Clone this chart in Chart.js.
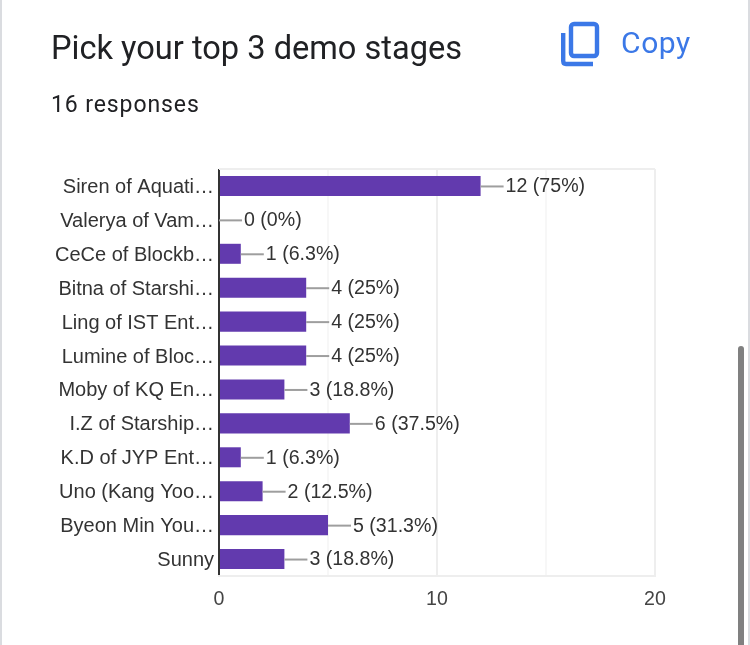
<!DOCTYPE html>
<html>
<head>
<meta charset="utf-8">
<style>
html, body { margin: 0; padding: 0; background: #fff; overflow: hidden; }
#page { position: relative; width: 750px; height: 645px; overflow: hidden; }
#chart { position: absolute; left: 0; top: 0; }
.edge { position: absolute; top: 0; height: 645px; width: 2px; background: #dadce0; }
#scroll { position: absolute; left: 738px; top: 346px; width: 6px; height: 299px; background: #808080; border-radius: 3px 3px 0 0; }
#title { position: absolute; left: 51px; top: 29px; font: 32.6px Roboto, sans-serif; color: #202124; white-space: nowrap; }
#count { position: absolute; left: 51px; top: 91px; font: 23px Roboto, sans-serif; letter-spacing: 0.9px; color: #202124; white-space: nowrap; }
#copy { position: absolute; left: 621px; top: 25px; font: 400 30px Roboto, sans-serif; letter-spacing: 0.6px; color: #3b78e7; }
#icon { position: absolute; left: 560px; top: 20px; }
</style>
<script src="https://cdn.jsdelivr.net/npm/chart.js@4"></script>
</head>
<body>
<div id="page">
    <canvas id="chart" width="750" height="645"></canvas>
    <div class="edge" style="left:0"></div>
    <div class="edge" style="left:748px"></div>
    <div id="scroll"></div>
    <div id="title">Pick your top 3 demo stages</div>
    <div id="count">16 responses</div>
    <svg id="icon" width="42" height="48" viewBox="0 0 42 48">
        <path d="M3.2 13 V41 Q3.2 44 6 44 H33" fill="none" stroke="#3b78e7" stroke-width="4.4"/>
        <rect x="11" y="4" width="26" height="32" rx="3" fill="none" stroke="#3b78e7" stroke-width="4.4"/>
    </svg>
    <div id="copy">Copy</div>
</div>
<script>
var categories = ['Siren of Aquati…', 'Valerya of Vam…', 'CeCe of Blockb…', 'Bitna of Starshi…', 'Ling of IST Ent…', 'Lumine of Bloc…', 'Moby of KQ En…', 'I.Z of Starship…', 'K.D of JYP Ent…', 'Uno (Kang Yoo…', 'Byeon Min You…', 'Sunny'];
var votes = [12, 0, 1, 4, 4, 4, 3, 6, 1, 2, 5, 3];
var shares = ['75%', '0%', '6.3%', '25%', '25%', '25%', '18.8%', '37.5%', '6.3%', '12.5%', '31.3%', '18.8%'];
var xTicks = [0, 10, 20];

// leader line and "n (p%)" label at the end of every bar
var barLabels = {
    id: 'barLabels',
    afterDatasetsDraw: function(chart) {
        var ctx = chart.ctx;
        var x = chart.scales.x;
        var y = chart.scales.y;
        ctx.save();
        ctx.font = '19.6px "Liberation Sans", Arial, sans-serif';
        ctx.textBaseline = 'middle';
        ctx.textAlign = 'left';
        votes.forEach(function(v, i) {
            var px = x.getPixelForValue(v);
            var py = y.getPixelForValue(i);
            ctx.strokeStyle = '#9e9e9e';
            ctx.lineWidth = 2;
            ctx.beginPath();
            ctx.moveTo(px, py + 0.5);
            ctx.lineTo(px + 23, py + 0.5);
            ctx.stroke();
            ctx.fillStyle = '#333333';
            ctx.fillText(v + ' (' + shares[i] + ')', px + 25, py + 1);
        });
        ctx.restore();
    }
};

// top edge of the plot
var plotTop = {
    id: 'plotTop',
    beforeDatasetsDraw: function(chart) {
        var a = chart.chartArea;
        var ctx = chart.ctx;
        ctx.save();
        ctx.strokeStyle = '#eeeeee';
        ctx.lineWidth = 2;
        ctx.beginPath();
        ctx.moveTo(a.left, a.top);
        ctx.lineTo(a.right, a.top);
        ctx.stroke();
        ctx.restore();
    }
};

new Chart(document.getElementById('chart'), {
    type: 'bar',
    data: {
        labels: categories,
        datasets: [{
            data: votes,
            backgroundColor: '#623aae',
            barPercentage: 0.59,
            categoryPercentage: 1
        }]
    },
    options: {
        indexAxis: 'y',
        responsive: false,
        animation: false,
        layout: { padding: { top: 169, right: 95, bottom: 0, left: 0 } },
        plugins: { legend: { display: false }, tooltip: { enabled: false } },
        scales: {
            x: {
                min: 0,
                max: 20,
                ticks: {
                    stepSize: 5,
                    maxRotation: 0,
                    padding: 12,
                    color: '#444444',
                    font: { family: '"Liberation Sans", Arial, sans-serif', size: 19.6 },
                    callback: function(v) { return xTicks.indexOf(v) >= 0 ? v : ''; }
                },
                grid: {
                    drawTicks: false,
                    lineWidth: 2,
                    color: function(c) {
                        if (c.tick.value === 0) return '#333333';
                        return xTicks.indexOf(c.tick.value) >= 0 ? '#eeeeee' : '#f7f7f7';
                    }
                },
                border: { color: '#eeeeee', width: 2 },
                afterFit: function(scale) { scale.height = 69; }
            },
            y: {
                ticks: {
                    autoSkip: false,
                    padding: 5,
                    labelOffset: 1.5,
                    color: '#333333',
                    font: { family: '"Liberation Sans", Arial, sans-serif', size: 20 }
                },
                grid: { display: false, drawTicks: false },
                border: { display: false },
                afterFit: function(scale) { scale.width = 219; }
            }
        }
    },
    plugins: [plotTop, barLabels]
});
</script>
</body>
</html>
